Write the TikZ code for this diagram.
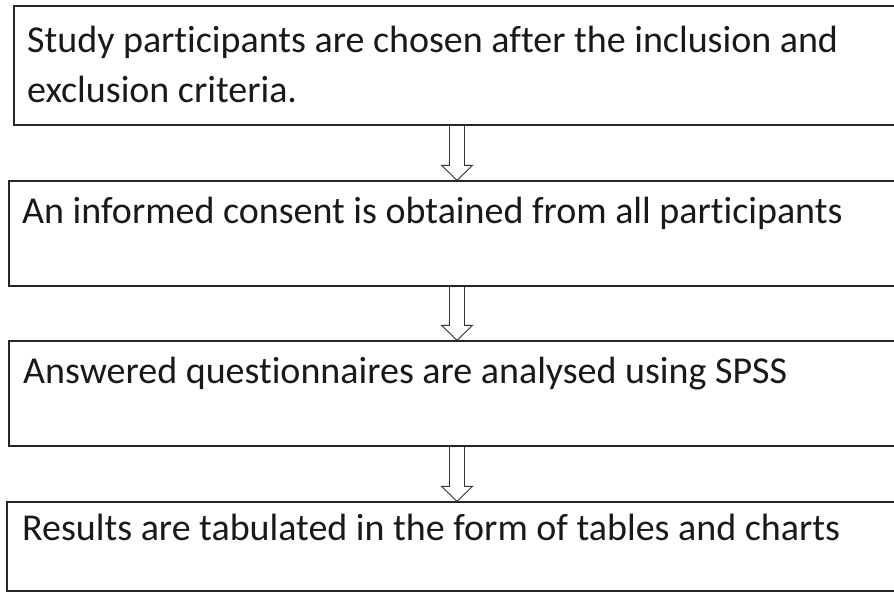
\documentclass[tikz,border=0pt]{standalone}
\usepackage{fontspec}
\setmainfont{Carlito}[Ligatures=NoCommon]
\usetikzlibrary{calc}

\begin{document}
\begin{tikzpicture}[x=1pt,y=-1pt,
  box_node/.style={rectangle,draw=black!85,line width=1.3pt,inner sep=0pt},
  step_text/.style={anchor=base west,inner sep=0pt,align=left,text=black!90,font=\fontsize{38}{50}\selectfont},
  flow_arrow/.style={draw=black!80,line width=0.9pt,line join=miter}]

	\useasboundingbox (0,0) rectangle (894,592);

	\node[box_node, minimum width=886pt, minimum height=119pt] (1) at (457, 65.5) {};
	\node[box_node, minimum width=896pt, minimum height=105pt] (2) at (457, 233.5) {};
	\node[box_node, minimum width=896pt, minimum height=105pt] (3) at (457, 393.5) {};
	\node[box_node, minimum width=900pt, minimum height=89pt] (4) at (457, 546.5) {};

	\node[step_text] (t1) at (27, 102) {Study participants are chosen after the inclusion and\\exclusion criteria.};
	\node[step_text] (t2) at (22, 223) {An informed consent is obtained from all participants};
	\node[step_text] (t3) at (23, 383) {Answered questionnaires are analysed using SPSS};
	\node[step_text] (t4) at (22, 540) {Results are tabulated in the form of tables and charts};

	% hollow block arrows between the steps
	\foreach \a/\b in {1/2, 2/3, 3/4}
	  \draw[flow_arrow] ($(\a.south)+(-7.5,0)$) -- ($(\b.north)+(-7.5,-15)$) -- ($(\b.north)+(-15.5,-15)$)
	    -- (\b.north) -- ($(\b.north)+(15.5,-15)$) -- ($(\b.north)+(7.5,-15)$) -- ($(\a.south)+(7.5,0)$);

\end{tikzpicture}
\end{document}
